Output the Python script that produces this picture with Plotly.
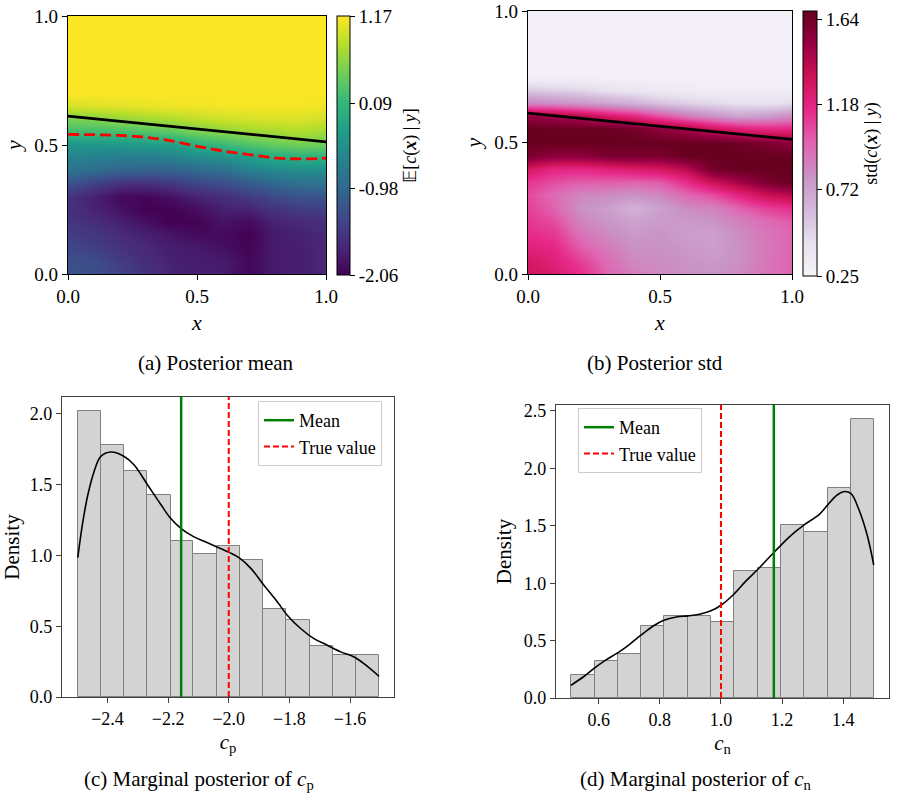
import numpy as np
import plotly.graph_objects as go

W, H = 897, 797
FONT = "Liberation Serif"

# ---------------- data: posterior fields ----------------
grid_x = [0.0, 0.1, 0.2, 0.3, 0.4, 0.5, 0.6, 0.7, 0.8, 0.9, 1.0]
grid_y = [0.0, 0.05, 0.1, 0.15, 0.2, 0.25, 0.3, 0.35, 0.4, 0.45, 0.5,
          0.55, 0.6, 0.65, 0.7, 0.75, 0.8, 0.85, 0.9, 0.95, 1.0]

# posterior mean, one list per x column (y from 0 to 1)
mean_cols = [
    [-1.22, -1.25, -1.35, -1.45, -1.54, -1.61, -1.58, -1.25, -0.85, -0.62, -0.36, 0.17, 0.52, 0.98, 1.17, 1.17, 1.17, 1.17, 1.17, 1.17, 1.17],
    [-1.25, -1.32, -1.45, -1.54, -1.64, -1.74, -1.77, -1.45, -0.95, -0.66, -0.38, 0.17, 0.56, 1.01, 1.17, 1.17, 1.17, 1.17, 1.17, 1.17, 1.17],
    [-1.41, -1.48, -1.58, -1.67, -1.77, -1.90, -1.98, -1.62, -1.06, -0.70, -0.35, 0.20, 0.65, 1.04, 1.17, 1.17, 1.17, 1.17, 1.17, 1.17, 1.17],
    [-1.58, -1.64, -1.70, -1.77, -1.92, -2.06, -2.02, -1.66, -1.09, -0.70, -0.32, 0.27, 0.72, 1.07, 1.17, 1.17, 1.17, 1.17, 1.17, 1.17, 1.17],
    [-1.74, -1.77, -1.80, -1.87, -2.06, -2.06, -1.92, -1.55, -1.09, -0.67, -0.25, 0.33, 0.78, 1.11, 1.17, 1.17, 1.17, 1.17, 1.17, 1.17, 1.17],
    [-1.80, -1.80, -1.83, -1.98, -2.06, -1.95, -1.77, -1.41, -0.99, -0.54, -0.03, 0.49, 0.88, 1.11, 1.17, 1.17, 1.17, 1.17, 1.17, 1.17, 1.17],
    [-1.80, -1.83, -1.92, -1.98, -1.90, -1.80, -1.64, -1.32, -0.90, -0.45, 0.10, 0.59, 0.94, 1.14, 1.17, 1.17, 1.17, 1.17, 1.17, 1.17, 1.17],
    [-2.02, -2.00, -2.04, -2.06, -1.98, -1.76, -1.51, -1.16, -0.70, -0.28, 0.27, 0.69, 0.98, 1.14, 1.17, 1.17, 1.17, 1.17, 1.17, 1.17, 1.17],
    [-1.82, -1.82, -1.82, -1.82, -1.76, -1.61, -1.35, -0.99, -0.57, -0.12, 0.39, 0.72, 1.01, 1.14, 1.17, 1.17, 1.17, 1.17, 1.17, 1.17, 1.17],
    [-1.79, -1.79, -1.79, -1.76, -1.69, -1.51, -1.25, -0.90, -0.51, -0.03, 0.46, 0.78, 1.01, 1.14, 1.17, 1.17, 1.17, 1.17, 1.17, 1.17, 1.17],
    [-1.70, -1.70, -1.70, -1.70, -1.62, -1.46, -1.22, -0.86, -0.51, -0.03, 0.43, 0.72, 0.94, 1.11, 1.17, 1.17, 1.17, 1.17, 1.17, 1.17, 1.17],
]

# posterior std, one list per x column (y from 0 to 1)
std_cols = [
    [1.31, 1.28, 1.21, 1.15, 1.11, 1.08, 1.05, 1.11, 1.28, 1.61, 1.68, 1.68, 1.51, 0.85, 0.54, 0.29, 0.29, 0.29, 0.29, 0.29, 0.29],
    [1.25, 1.21, 1.17, 1.11, 1.04, 0.97, 0.94, 1.04, 1.17, 1.54, 1.68, 1.68, 1.47, 0.82, 0.51, 0.29, 0.29, 0.29, 0.29, 0.29, 0.29],
    [1.14, 1.08, 0.99, 0.92, 0.85, 0.80, 0.84, 0.99, 1.17, 1.54, 1.68, 1.68, 1.40, 0.77, 0.48, 0.29, 0.29, 0.29, 0.29, 0.29, 0.29],
    [0.97, 0.94, 0.89, 0.83, 0.78, 0.74, 0.82, 0.99, 1.20, 1.61, 1.68, 1.68, 1.28, 0.71, 0.42, 0.29, 0.29, 0.29, 0.29, 0.29, 0.29],
    [0.87, 0.83, 0.80, 0.77, 0.72, 0.64, 0.79, 0.97, 1.25, 1.61, 1.68, 1.64, 1.18, 0.65, 0.39, 0.29, 0.29, 0.29, 0.29, 0.29, 0.29],
    [0.83, 0.82, 0.80, 0.79, 0.76, 0.73, 0.84, 1.00, 1.28, 1.61, 1.68, 1.54, 1.04, 0.57, 0.35, 0.29, 0.29, 0.29, 0.29, 0.29, 0.29],
    [0.80, 0.79, 0.77, 0.74, 0.76, 0.82, 0.95, 1.14, 1.38, 1.68, 1.68, 1.47, 0.90, 0.51, 0.34, 0.29, 0.29, 0.29, 0.29, 0.29, 0.29],
    [0.79, 0.77, 0.74, 0.73, 0.79, 0.86, 1.04, 1.33, 1.64, 1.68, 1.68, 1.33, 0.80, 0.47, 0.32, 0.29, 0.29, 0.29, 0.29, 0.29, 0.29],
    [0.82, 0.81, 0.80, 0.82, 0.86, 0.97, 1.18, 1.47, 1.68, 1.68, 1.66, 1.23, 0.72, 0.42, 0.32, 0.29, 0.29, 0.29, 0.29, 0.29, 0.29],
    [0.91, 0.90, 0.89, 0.90, 0.94, 1.08, 1.33, 1.61, 1.68, 1.68, 1.61, 1.18, 0.75, 0.42, 0.32, 0.29, 0.29, 0.29, 0.29, 0.29, 0.29],
    [0.97, 0.97, 0.97, 0.97, 1.00, 1.14, 1.40, 1.68, 1.68, 1.68, 1.54, 1.18, 0.82, 0.45, 0.32, 0.29, 0.29, 0.29, 0.29, 0.29, 0.29],
]

mean_range = [-2.06, 1.18]
mean_ticks = [1.17, 0.09, -0.98, -2.06]
mean_ticktext = ["1.17", "0.09", "-0.98", "-2.06"]
std_range = [0.25, 1.685]
std_ticks = [1.64, 1.18, 0.72, 0.25]
std_ticktext = ["1.64", "1.18", "0.72", "0.25"]

# interfaces
true_x = [0.0, 0.25, 0.5, 0.75, 1.0]
true_y = [0.612, 0.587, 0.562, 0.537, 0.512]
est_x = [0.0, 0.1, 0.2, 0.3, 0.4, 0.5, 0.6, 0.7, 0.8, 0.9, 1.0]
est_y = [0.541, 0.540, 0.537, 0.530, 0.516, 0.495, 0.477, 0.463, 0.450, 0.446, 0.449]

# ---------------- data: marginal posteriors ----------------
cp_edges = [-2.498, -2.421, -2.345, -2.269, -2.192, -2.117, -2.040, -1.963, -1.886, -1.810, -1.732, -1.655, -1.580, -1.504]
cp_density = [2.02, 1.78, 1.60, 1.43, 1.10, 1.01, 1.07, 0.97, 0.62, 0.545, 0.357, 0.30, 0.30]
cp_kde_x = [-2.498, -2.482, -2.466, -2.444, -2.422, -2.389, -2.345, -2.312, -2.268, -2.224, -2.192, -2.157,
            -2.116, -2.070, -1.999, -1.963, -1.927, -1.884, -1.840, -1.807, -1.763, -1.719, -1.675, -1.631,
            -1.587, -1.554, -1.504]
cp_kde_y = [0.985, 1.228, 1.417, 1.594, 1.700, 1.731, 1.700, 1.640, 1.500, 1.360, 1.263, 1.190,
            1.133, 1.090, 1.022, 0.980, 0.909, 0.790, 0.673, 0.578, 0.484, 0.413, 0.366, 0.319,
            0.283, 0.236, 0.146]
cp_mean = -2.157
cp_true = -2.0

cn_edges = [0.5085, 0.588, 0.663, 0.738, 0.813, 0.892, 0.967, 1.042, 1.120, 1.196, 1.271, 1.349, 1.424, 1.500]
cn_density = [0.203, 0.326, 0.387, 0.631, 0.715, 0.715, 0.666, 1.11, 1.128, 1.509, 1.442, 1.826, 2.427]
cn_kde_x = [0.5085, 0.549, 0.588, 0.625, 0.663, 0.701, 0.738, 0.777, 0.813, 0.854, 0.892, 0.930, 0.967,
            1.0, 1.042, 1.082, 1.120, 1.173, 1.224, 1.271, 1.322, 1.349, 1.376, 1.400, 1.425, 1.452,
            1.480, 1.500]
cn_kde_y = [0.110, 0.183, 0.265, 0.334, 0.395, 0.468, 0.547, 0.625, 0.677, 0.706, 0.715, 0.730, 0.759,
            0.808, 0.904, 1.020, 1.119, 1.267, 1.404, 1.506, 1.599, 1.680, 1.759, 1.797, 1.782, 1.637,
            1.404, 1.157]
cn_mean = 1.173
cn_true = 1.0

captions = ["(a) Posterior mean", "(b) Posterior std",
            "(c) Marginal posterior of <i>c</i><sub>p</sub>",
            "(d) Marginal posterior of <i>c</i><sub>n</sub>"]

# ---------------- layout helpers ----------------
def px_x(p):
    return p / W

def px_y(p):
    return 1 - p / H

fig = go.Figure()

mean_z = np.array(mean_cols).T
std_z = np.array(std_cols).T

fig.add_trace(go.Heatmap(
    x=grid_x, y=grid_y, z=mean_z, zsmooth="best", colorscale="Viridis",
    zmin=mean_range[0], zmax=mean_range[1], xaxis="x", yaxis="y",
    colorbar=dict(
        x=px_x(337), xanchor="left", y=px_y(145.5), yanchor="middle",
        lenmode="pixels", len=259, thicknessmode="pixels", thickness=13, ypad=0, xpad=0,
        outlinewidth=1, outlinecolor="black",
        tickvals=mean_ticks, ticktext=mean_ticktext, ticks="outside", ticklen=5,
        tickcolor="black", tickfont=dict(family=FONT, size=19, color="black"),
        title=dict(text="𝔼[<i>c</i>(<b><i>x</i></b>) | <i>y</i>]", side="right",
                   font=dict(family=FONT, size=18, color="black")),
    ),
    hoverinfo="skip",
))
fig.add_trace(go.Scatter(x=true_x, y=true_y, mode="lines", line=dict(color="black", width=2.8),
                         xaxis="x", yaxis="y", showlegend=False))
fig.add_trace(go.Scatter(x=est_x, y=est_y, mode="lines", line_shape="spline",
                         line=dict(color="#ff0000", width=2.8, dash="11px,5px"),
                         xaxis="x", yaxis="y", showlegend=False))

fig.add_trace(go.Heatmap(
    x=grid_x, y=grid_y, z=std_z, zsmooth="best", colorscale="PuRd",
    zmin=std_range[0], zmax=std_range[1], xaxis="x2", yaxis="y2",
    colorbar=dict(
        x=px_x(803), xanchor="left", y=px_y(143.5), yanchor="middle",
        lenmode="pixels", len=265, thicknessmode="pixels", thickness=14, ypad=0, xpad=0,
        outlinewidth=1, outlinecolor="black",
        tickvals=std_ticks, ticktext=std_ticktext, ticks="outside", ticklen=5,
        tickcolor="black", tickfont=dict(family=FONT, size=19, color="black"),
        title=dict(text="std(<i>c</i>(<b><i>x</i></b>) | <i>y</i>)", side="right",
                   font=dict(family=FONT, size=18, color="black")),
    ),
    hoverinfo="skip",
))
fig.add_trace(go.Scatter(x=true_x, y=true_y, mode="lines", line=dict(color="black", width=2.8),
                         xaxis="x2", yaxis="y2", showlegend=False))

# histograms
cp_top = 2.12
cn_top = 2.552
cp_w = [cp_edges[i + 1] - cp_edges[i] for i in range(len(cp_density))]
cn_w = [cn_edges[i + 1] - cn_edges[i] for i in range(len(cn_density))]

fig.add_trace(go.Bar(x=cp_edges[:-1], y=cp_density, width=cp_w, offset=0,
                     marker=dict(color="#d3d3d3", line=dict(color="#808080", width=1)),
                     xaxis="x3", yaxis="y3", showlegend=False))
fig.add_trace(go.Scatter(x=cp_kde_x, y=cp_kde_y, mode="lines", line_shape="spline",
                         line=dict(color="black", width=1.6), xaxis="x3", yaxis="y3", showlegend=False))
fig.add_trace(go.Scatter(x=[cp_mean, cp_mean], y=[0, cp_top], mode="lines", name="Mean",
                         line=dict(color="#008000", width=2.5), xaxis="x3", yaxis="y3", legend="legend"))
fig.add_trace(go.Scatter(x=[cp_true, cp_true], y=[0, cp_top], mode="lines", name="True value",
                         line=dict(color="#ff0000", width=2, dash="6px,3px"), xaxis="x3", yaxis="y3",
                         legend="legend"))

fig.add_trace(go.Bar(x=cn_edges[:-1], y=cn_density, width=cn_w, offset=0,
                     marker=dict(color="#d3d3d3", line=dict(color="#808080", width=1)),
                     xaxis="x4", yaxis="y4", showlegend=False))
fig.add_trace(go.Scatter(x=cn_kde_x, y=cn_kde_y, mode="lines", line_shape="spline",
                         line=dict(color="black", width=1.6), xaxis="x4", yaxis="y4", showlegend=False))
fig.add_trace(go.Scatter(x=[cn_mean, cn_mean], y=[0, cn_top], mode="lines", name="Mean",
                         line=dict(color="#008000", width=2.5), xaxis="x4", yaxis="y4", legend="legend2"))
fig.add_trace(go.Scatter(x=[cn_true, cn_true], y=[0, cn_top], mode="lines", name="True value",
                         line=dict(color="#ff0000", width=2, dash="6px,3px"), xaxis="x4", yaxis="y4",
                         legend="legend2"))

tickfont = dict(family=FONT, size=19, color="black")
titlefont = dict(family=FONT, size=22, color="black")

def heat_axis(domain, anchor, title, standoff):
    return dict(domain=domain, anchor=anchor, range=[0, 1], tickvals=[0, 0.5, 1],
                ticktext=["0.0", "0.5", "1.0"], showline=True, mirror=True, linecolor="black",
                linewidth=1.2, ticks="outside", ticklen=5, tickcolor="black", showgrid=False,
                zeroline=False, tickfont=tickfont, automargin=False,
                title=dict(text=title, font=titlefont, standoff=standoff))

hist_line = "#404040"

def hist_axis(domain, anchor, rng, tickvals, ticktext, title, standoff, size=18):
    return dict(domain=domain, anchor=anchor, range=rng, tickvals=tickvals, ticktext=ticktext,
                showline=True, mirror=True, linecolor=hist_line, linewidth=1.2, ticks="outside",
                ticklen=5, tickcolor=hist_line, showgrid=False, zeroline=False, automargin=False,
                tickfont=dict(family=FONT, size=size, color="black"),
                title=dict(text=title, font=dict(family=FONT, size=21, color="black"), standoff=standoff))

legend_style = dict(xanchor="left", yanchor="top", bgcolor="rgba(255,255,255,0.85)",
                    bordercolor="#cccccc", borderwidth=1, xref="paper", yref="paper",
                    font=dict(family=FONT, size=18, color="black"), tracegroupgap=0)

fig.update_layout(
    width=W, height=H, margin=dict(l=0, r=0, t=0, b=0, autoexpand=False),
    paper_bgcolor="white", plot_bgcolor="white",
    font=dict(family=FONT, color="black"),
    xaxis=heat_axis([px_x(68), px_x(326)], "y", "<i>x</i>", 8),
    yaxis=heat_axis([px_y(274), px_y(16)], "x", "<i>y</i>", 6),
    xaxis2=heat_axis([px_x(528), px_x(792)], "y2", "<i>x</i>", 8),
    yaxis2=heat_axis([px_y(274), px_y(11)], "x2", "<i>y</i>", 6),
    xaxis3=hist_axis([px_x(62), px_x(394)], "y3", [-2.55, -1.455], [-2.4, -2.2, -2.0, -1.8, -1.6],
                     ["−2.4", "−2.2", "−2.0", "−1.8", "−1.6"], "<i>c</i><sub>p</sub>", 6),
    yaxis3=hist_axis([px_y(697), px_y(397)], "x3", [0, cp_top], [0, 0.5, 1.0, 1.5, 2.0],
                     ["0.0", "0.5", "1.0", "1.5", "2.0"], "Density", 6),
    xaxis4=hist_axis([px_x(556), px_x(889)], "y4", [0.46, 1.55], [0.6, 0.8, 1.0, 1.2, 1.4],
                     ["0.6", "0.8", "1.0", "1.2", "1.4"], "<i>c</i><sub>n</sub>", 6),
    yaxis4=hist_axis([px_y(698), px_y(405)], "x4", [0, cn_top], [0, 0.5, 1.0, 1.5, 2.0, 2.5],
                     ["0.0", "0.5", "1.0", "1.5", "2.0", "2.5"], "Density", 6),
    legend=dict(x=px_x(258), y=px_y(401), **legend_style),
    legend2=dict(x=px_x(578), y=px_y(408), **legend_style),
    bargap=0,
)

cap_pos = [(216, 363), (655, 363), (199, 780), (696, 780)]
for text, (cx, cy) in zip(captions, cap_pos):
    fig.add_annotation(text=text, x=px_x(cx), y=px_y(cy), xref="paper", yref="paper",
                       showarrow=False, xanchor="center", yanchor="middle",
                       font=dict(family=FONT, size=21, color="black"))

fig.write_html("out.html")
